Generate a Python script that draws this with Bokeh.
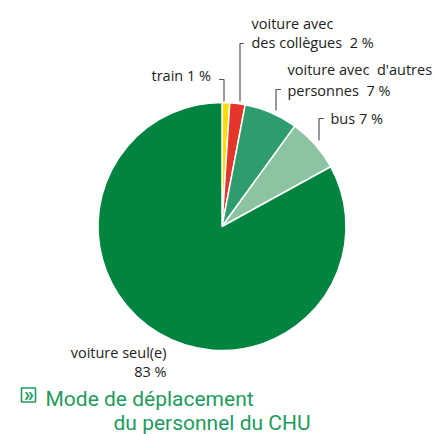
from bokeh.plotting import figure
from bokeh.models import Range1d, ColumnDataSource
from bokeh.embed import file_html
from bokeh.resources import INLINE
from bokeh.core.properties import value
import numpy as np

categories = ["train", "voiture avec des collègues", "voiture avec d'autres personnes", "bus", "voiture seul(e)"]
percents = [1, 2, 7, 7, 83]
colors = ["#FFDD00", "#E6362B", "#2E9D6D", "#8CC4A2", "#00843F"]
NB = "\u00a0"
label_lines = [
    ["train 1 %"],
    ["voiture avec", "des collègues" + NB + NB + "2 %"],
    ["voiture avec" + NB + NB + "d'autres", "personnes" + NB + NB + "7 %"],
    ["bus 7 %"],
    ["voiture seul(e)", "83 %"],
]
title_lines = ["Mode de déplacement", "du personnel du CHU"]

W, H = 435, 434
def fy(py):
    return H - py

p = figure(width=W, height=H, x_range=Range1d(0, W), y_range=Range1d(0, H),
           output_backend="svg", toolbar_location=None, min_border=0)
p.axis.visible = False
p.grid.visible = False
p.outline_line_color = None
p.background_fill_color = "white"
p.border_fill_color = "white"

cx, cy, r = 221.5, fy(226), 124
fr = np.array(percents) / sum(percents)
cum = np.concatenate([[0], np.cumsum(fr)])
start = np.pi / 2 - cum[:-1] * 2 * np.pi
end = np.pi / 2 - cum[1:] * 2 * np.pi
src = ColumnDataSource(dict(start=start, end=end, color=colors))
p.wedge(x=cx, y=cy, radius=r, start_angle="start", end_angle="end", direction="clock",
        fill_color="color", line_color="white", line_width=1.5, source=src)

# leader lines (layout)
leaders = [
    (223.5, 79, 101, -5),
    (239.5, 43, 101, 4),
    (275.5, 89, 110, 5),
    (318.5, 118, 140, 5),
]
for x, yt, yb, d in leaders:
    p.line([x + d, x, x], [fy(yt), fy(yt), fy(yb)], line_color="#555555", line_width=1.2)

LS = 14.5
lo = 5  # baseline correction
font = value("Open Sans")
lab_style = dict(text_font=font, text_font_size=f"{LS}px", text_color="#222222", text_baseline="alphabetic")
p.text(x=[151], y=[fy(80 - lo)], text=[label_lines[0][0]], **lab_style)
p.text(x=[251, 251], y=[fy(28 - lo), fy(47 - lo)], text=label_lines[1], **lab_style)
p.text(x=[287, 287], y=[fy(74 - lo), fy(95 - lo)], text=label_lines[2], **lab_style)
p.text(x=[330], y=[fy(123 - lo)], text=label_lines[3], **lab_style)
p.text(x=[166, 166], y=[fy(357 - lo), fy(376 - lo)], text=label_lines[4], text_align="right", **lab_style)

tgreen = "#1E9A5D"
to = 8
tstyle = dict(text_font=value("Roboto"), text_font_size="21px", text_color=tgreen, text_baseline="alphabetic")
p.text(x=[45], y=[fy(406 - to)], text=[title_lines[0]], **tstyle)
p.text(x=[113], y=[fy(430 - to)], text=[title_lines[1]], **tstyle)

# icon box
p.rect(x=[28], y=[fy(394.5)], width=14, height=14, fill_color=None, line_color=tgreen, line_width=1.6)
p.text(x=[28.5], y=[fy(393)], text=["»"], text_font=value("Roboto"), text_font_size="20px",
       text_color=tgreen, text_align="center", text_baseline="alphabetic", text_font_style="bold")

open("out.html", "w").write(file_html(p, INLINE))
